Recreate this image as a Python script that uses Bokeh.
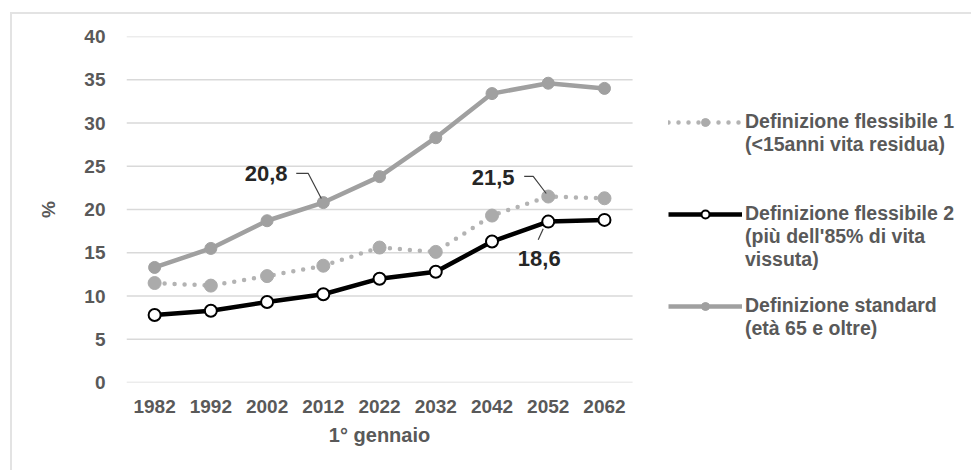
from bokeh.plotting import figure
from bokeh.models import Range1d, FixedTicker, Legend, LegendItem, ColumnDataSource, LinearAxis
from bokeh.embed import file_html
from bokeh.resources import INLINE
from bokeh.core.properties import value

years = [1982, 1992, 2002, 2012, 2022, 2032, 2042, 2052, 2062]
flex1 = [11.5, 11.2, 12.3, 13.5, 15.6, 15.1, 19.3, 21.5, 21.3]
flex2 = [7.8, 8.3, 9.3, 10.2, 12.0, 12.8, 16.3, 18.6, 18.8]
standard = [13.3, 15.5, 18.7, 20.8, 23.8, 28.3, 33.4, 34.6, 34.0]
y_ticks = [0, 5, 10, 15, 20, 25, 30, 35, 40]
x_title = "1° gennaio"
y_title = "%"
legend_lines = [["Definizione flessibile 1", "(<15anni vita residua)"],
                ["Definizione flessibile 2", "(più dell'85% di vita", "vissuta)"],
                ["Definizione standard", "(età 65 e oltre)"]]

FONT = "Liberation Sans"
GREY_TXT = "#595959"

X0, X1 = 1977, 2067          # band of the chart area
PX_PER_YEAR = 5.61
FRAME_W = 959 - 114

p = figure(width=959, height=456, x_range=Range1d(X0, X0 + FRAME_W / PX_PER_YEAR), y_range=Range1d(0, 40),
           output_backend="svg", toolbar_location=None, x_axis_location=None,
           min_border_left=114, min_border_top=22, min_border_bottom=90, min_border_right=0)
p.styles = {"margin-left": "10px", "margin-top": "12px", "border-left": "2px solid #e3e3e3",
            "border-top": "2px solid #e3e3e3", "box-sizing": "content-box"}
p.outline_line_color = None
p.xgrid.grid_line_color = None
p.ygrid.grid_line_color = None

# horizontal gridlines limited to the chart band
p.segment(x0=[X0] * len(y_ticks), x1=[X1] * len(y_ticks), y0=y_ticks, y1=y_ticks,
          line_color="#d9d9d9", line_width=1.5)

xa = LinearAxis(ticker=FixedTicker(ticks=years))
xt = LinearAxis(ticker=FixedTicker(ticks=[(X0 + X1) / 2]),
                major_label_overrides={(X0 + X1) / 2: x_title})
p.add_layout(xa, "below")
p.add_layout(xt, "below")
p.yaxis.ticker = FixedTicker(ticks=y_ticks)
for ax in (xa, xt, p.yaxis[0]):
    ax.axis_line_color = None
    ax.major_tick_line_color = None
    ax.minor_tick_line_color = None
    ax.major_tick_out = 0
    ax.major_label_text_font = FONT
    ax.major_label_text_font_style = "bold"
    ax.major_label_text_font_size = "19px"
    ax.major_label_text_color = GREY_TXT
    ax.axis_label_text_font = FONT
    ax.axis_label_text_font_style = "bold"
    ax.axis_label_text_font_size = "19px"
    ax.axis_label_text_color = GREY_TXT
xt.major_label_text_font_size = "20px"
xa.major_label_standoff = 17
xt.major_label_standoff = 8
p.yaxis.major_label_standoff = 21
p.yaxis.axis_label = y_title
p.yaxis.axis_label_standoff = 22

src = ColumnDataSource(dict(x=years, f1=flex1, f2=flex2, st=standard))

l1 = p.line("x", "f1", source=src, line_color="#b3b3b3", line_width=4.5, line_dash="0 10", line_cap="round")
m1 = p.scatter("x", "f1", source=src, size=13, fill_color="#ababab", line_color="#ababab")
l2 = p.line("x", "f2", source=src, line_color="black", line_width=4.5)
m2 = p.scatter("x", "f2", source=src, size=12, fill_color="white", line_color="black", line_width=2)
l3 = p.line("x", "st", source=src, line_color="#a0a0a0", line_width=4.5)
m3 = p.scatter("x", "st", source=src, size=12, fill_color="#a0a0a0", line_color="#a0a0a0")

# data callouts: (series, index, leader points as pixel offsets from the point, text offset)
px_x = 1 / PX_PER_YEAR
px_y = 1 / 8.6
callouts = [
    (standard, 3, [(-2, 4), (-15, 29), (-27, 29)], (-57, 29)),
    (flex1, 7, [(-2, 3), (-15, 20), (-24, 20)], (-55, 19)),
    (flex2, 7, [(-5, -7), (-10, -18)], (-9, -37)),
]
for series, i, legs, txt in callouts:
    xs = [years[i] + dx * px_x for dx, dy in legs]
    ys = [series[i] + dy * px_y for dx, dy in legs]
    p.line(xs, ys, line_color="#404040", line_width=1.2)
    lab = f"{series[i]:.1f}".replace(".", ",")
    p.text(x=[years[i] + txt[0] * px_x], y=[series[i] + txt[1] * px_y], text=[lab],
           text_font=value(FONT), text_font_style="bold", text_font_size="22px",
           text_color="#262626", text_align="center", text_baseline="middle")

# legend: the glyph is centred on each entry, so blank lines above put it on the first text line
pads = [1, 2, 1]
items = []
for lines, rends, pad in zip(legend_lines, [[l1, m1], [l2, m2], [l3, m3]], pads):
    lab = "\n".join([" "] * pad + lines)
    items.append(LegendItem(label=lab, renderers=rends))

legend = Legend(items=items, location=(542, 42), orientation="vertical")
legend.border_line_color = None
legend.background_fill_alpha = 0
legend.glyph_width = 74
legend.glyph_height = 20
legend.label_height = 20
legend.spacing = -13
legend.padding = 0
legend.margin = 0
legend.label_text_font = FONT
legend.label_text_font_style = "bold"
legend.label_text_font_size = "19.5px"
legend.label_text_color = GREY_TXT
legend.label_standoff = 3
p.add_layout(legend, "center")

open("out.html", "w").write(file_html(p, INLINE))
